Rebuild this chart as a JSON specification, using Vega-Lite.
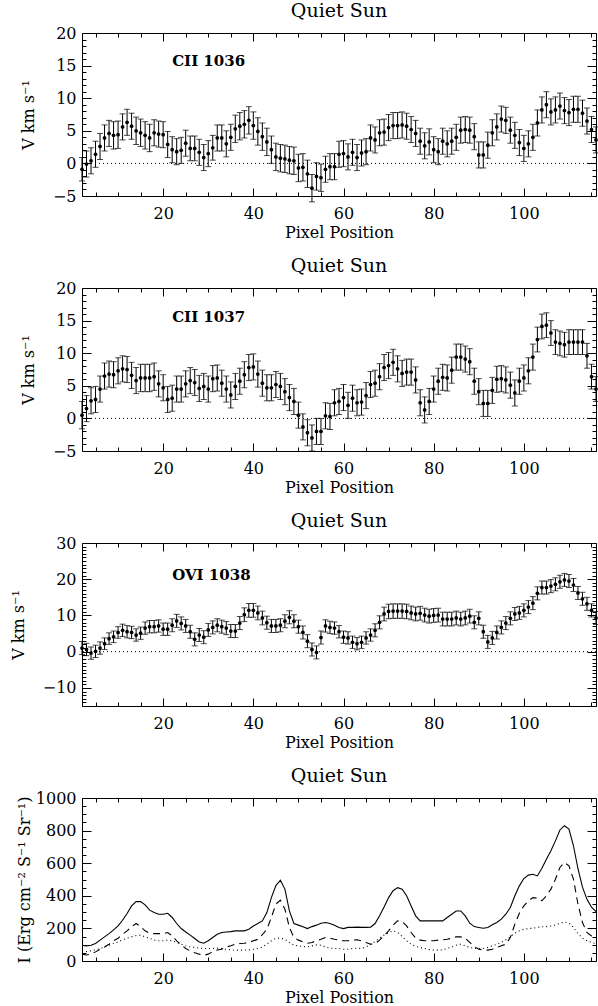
{
"$schema": "https://vega.github.io/schema/vega-lite/v6.json",
"padding": {"left": 9, "top": 1, "right": 2, "bottom": 0},
"bounds": "flush",
"spacing": 92,
"datasets": {
"vel": [
{"x":2,"a":-0.9,"ea":1.8,"b":0.5,"eb":2.1,"c":1.0,"ec":1.8},
{"x":3,"a":-0.1,"ea":2.0,"b":1.5,"eb":2.0,"c":0.6,"ec":1.7},
{"x":4,"a":0.4,"ea":2.0,"b":2.7,"eb":2.0,"c":-0.4,"ec":1.7},
{"x":5,"a":1.4,"ea":2.0,"b":2.9,"eb":2.0,"c":0.1,"ec":1.7},
{"x":6,"a":2.6,"ea":2.0,"b":4.5,"eb":2.0,"c":1.0,"ec":1.7},
{"x":7,"a":3.9,"ea":2.0,"b":6.5,"eb":2.0,"c":2.2,"ec":1.6},
{"x":8,"a":4.6,"ea":2.0,"b":6.8,"eb":2.0,"c":3.6,"ec":1.6},
{"x":9,"a":4.3,"ea":2.1,"b":6.7,"eb":2.0,"c":4.1,"ec":1.6},
{"x":10,"a":4.4,"ea":2.1,"b":7.3,"eb":2.0,"c":5.3,"ec":1.6},
{"x":11,"a":5.6,"ea":2.0,"b":7.6,"eb":2.0,"c":5.9,"ec":1.7},
{"x":12,"a":6.3,"ea":2.0,"b":7.5,"eb":2.0,"c":5.5,"ec":1.7},
{"x":13,"a":5.7,"ea":2.0,"b":6.6,"eb":2.0,"c":5.3,"ec":1.7},
{"x":14,"a":5.0,"ea":2.1,"b":5.8,"eb":2.0,"c":4.6,"ec":1.7},
{"x":15,"a":4.7,"ea":2.1,"b":6.2,"eb":2.1,"c":5.1,"ec":1.7},
{"x":16,"a":4.3,"ea":2.1,"b":6.2,"eb":2.1,"c":6.5,"ec":1.7},
{"x":17,"a":3.9,"ea":2.1,"b":6.2,"eb":2.1,"c":6.9,"ec":1.7},
{"x":18,"a":4.7,"ea":2.0,"b":6.4,"eb":2.1,"c":6.9,"ec":1.7},
{"x":19,"a":4.5,"ea":2.0,"b":5.3,"eb":2.0,"c":7.1,"ec":1.7},
{"x":20,"a":4.4,"ea":2.0,"b":4.7,"eb":2.0,"c":6.2,"ec":1.7},
{"x":21,"a":2.9,"ea":2.0,"b":2.9,"eb":2.0,"c":6.2,"ec":1.7},
{"x":22,"a":2.1,"ea":2.0,"b":3.1,"eb":2.0,"c":7.3,"ec":1.8},
{"x":23,"a":1.8,"ea":2.0,"b":4.5,"eb":2.0,"c":8.5,"ec":1.8},
{"x":24,"a":2.0,"ea":2.0,"b":4.5,"eb":2.0,"c":7.8,"ec":1.8},
{"x":25,"a":3.1,"ea":2.0,"b":5.3,"eb":2.0,"c":7.1,"ec":1.8},
{"x":26,"a":2.3,"ea":1.9,"b":5.8,"eb":2.0,"c":5.5,"ec":1.8},
{"x":27,"a":2.3,"ea":1.9,"b":5.5,"eb":2.0,"c":3.4,"ec":1.8},
{"x":28,"a":1.7,"ea":2.0,"b":4.6,"eb":2.0,"c":4.6,"ec":1.8},
{"x":29,"a":0.9,"ea":2.0,"b":4.9,"eb":2.0,"c":4.0,"ec":1.8},
{"x":30,"a":1.5,"ea":2.0,"b":4.5,"eb":2.0,"c":6.0,"ec":1.8},
{"x":31,"a":2.4,"ea":1.9,"b":6.1,"eb":2.0,"c":6.7,"ec":1.8},
{"x":32,"a":3.9,"ea":2.0,"b":6.2,"eb":2.0,"c":7.3,"ec":1.8},
{"x":33,"a":3.9,"ea":2.0,"b":5.4,"eb":2.0,"c":6.9,"ec":1.8},
{"x":34,"a":3.0,"ea":2.0,"b":4.5,"eb":2.0,"c":6.5,"ec":1.8},
{"x":35,"a":4.0,"ea":2.0,"b":3.6,"eb":2.0,"c":5.7,"ec":1.8},
{"x":36,"a":5.3,"ea":2.1,"b":4.9,"eb":2.0,"c":5.7,"ec":1.8},
{"x":37,"a":5.7,"ea":2.1,"b":5.7,"eb":2.0,"c":7.9,"ec":1.8},
{"x":38,"a":6.0,"ea":2.1,"b":6.7,"eb":2.0,"c":10.2,"ec":1.9},
{"x":39,"a":6.6,"ea":2.1,"b":7.8,"eb":2.0,"c":11.4,"ec":1.9},
{"x":40,"a":5.8,"ea":2.1,"b":7.9,"eb":2.0,"c":11.4,"ec":1.9},
{"x":41,"a":4.9,"ea":2.1,"b":6.8,"eb":2.0,"c":10.7,"ec":1.9},
{"x":42,"a":4.1,"ea":2.1,"b":5.4,"eb":2.0,"c":9.3,"ec":1.9},
{"x":43,"a":3.3,"ea":2.1,"b":4.7,"eb":2.0,"c":8.0,"ec":1.8},
{"x":44,"a":2.1,"ea":2.1,"b":4.7,"eb":2.0,"c":7.1,"ec":1.8},
{"x":45,"a":1.0,"ea":2.1,"b":5.2,"eb":2.0,"c":7.1,"ec":1.8},
{"x":46,"a":0.8,"ea":2.1,"b":4.9,"eb":2.0,"c":7.3,"ec":1.8},
{"x":47,"a":0.7,"ea":2.1,"b":4.1,"eb":2.0,"c":8.4,"ec":1.8},
{"x":48,"a":0.5,"ea":2.1,"b":3.2,"eb":2.0,"c":9.5,"ec":1.8},
{"x":49,"a":0.4,"ea":2.1,"b":2.6,"eb":2.0,"c":8.4,"ec":1.8},
{"x":50,"a":-0.7,"ea":2.1,"b":0.5,"eb":2.0,"c":6.9,"ec":1.8},
{"x":51,"a":-0.6,"ea":2.1,"b":-1.3,"eb":2.0,"c":5.3,"ec":1.8},
{"x":52,"a":-1.6,"ea":2.1,"b":-2.2,"eb":2.0,"c":2.9,"ec":1.8},
{"x":53,"a":-3.8,"ea":2.1,"b":-3.0,"eb":2.0,"c":0.6,"ec":1.8},
{"x":54,"a":-2.0,"ea":2.1,"b":-2.0,"eb":2.0,"c":-0.2,"ec":1.8},
{"x":55,"a":-2.2,"ea":2.1,"b":-2.0,"eb":2.0,"c":3.9,"ec":1.8},
{"x":56,"a":-0.9,"ea":2.0,"b":0.4,"eb":2.0,"c":7.1,"ec":1.7},
{"x":57,"a":-0.5,"ea":2.0,"b":0.3,"eb":2.0,"c":6.7,"ec":1.7},
{"x":58,"a":-0.5,"ea":2.0,"b":2.4,"eb":2.0,"c":6.5,"ec":1.7},
{"x":59,"a":1.4,"ea":2.0,"b":2.6,"eb":2.0,"c":5.5,"ec":1.7},
{"x":60,"a":1.5,"ea":2.0,"b":3.2,"eb":2.0,"c":4.0,"ec":1.7},
{"x":61,"a":1.0,"ea":2.0,"b":2.0,"eb":2.0,"c":3.8,"ec":1.7},
{"x":62,"a":1.7,"ea":2.0,"b":3.1,"eb":2.0,"c":2.6,"ec":1.7},
{"x":63,"a":0.9,"ea":2.0,"b":2.4,"eb":2.0,"c":2.2,"ec":1.7},
{"x":64,"a":1.6,"ea":2.0,"b":2.5,"eb":2.0,"c":2.6,"ec":1.7},
{"x":65,"a":1.8,"ea":2.0,"b":3.5,"eb":2.0,"c":3.8,"ec":1.7},
{"x":66,"a":3.9,"ea":2.0,"b":5.2,"eb":2.0,"c":4.6,"ec":1.7},
{"x":67,"a":3.6,"ea":2.0,"b":5.4,"eb":2.0,"c":5.9,"ec":1.8},
{"x":68,"a":4.7,"ea":2.0,"b":6.4,"eb":2.0,"c":8.1,"ec":1.8},
{"x":69,"a":4.8,"ea":2.0,"b":7.8,"eb":2.0,"c":10.4,"ec":1.9},
{"x":70,"a":5.5,"ea":2.0,"b":8.1,"eb":2.0,"c":11.1,"ec":2.0},
{"x":71,"a":5.8,"ea":2.0,"b":8.6,"eb":2.0,"c":11.2,"ec":2.0},
{"x":72,"a":5.8,"ea":2.0,"b":7.6,"eb":2.0,"c":11.2,"ec":2.0},
{"x":73,"a":5.9,"ea":2.0,"b":6.9,"eb":2.0,"c":11.2,"ec":2.0},
{"x":74,"a":5.7,"ea":2.0,"b":7.1,"eb":2.0,"c":11.1,"ec":2.0},
{"x":75,"a":5.2,"ea":2.0,"b":7.1,"eb":2.0,"c":10.7,"ec":1.9},
{"x":76,"a":4.6,"ea":2.0,"b":5.9,"eb":2.0,"c":10.4,"ec":1.9},
{"x":77,"a":3.4,"ea":2.0,"b":2.4,"eb":2.0,"c":10.6,"ec":1.9},
{"x":78,"a":2.7,"ea":2.0,"b":1.3,"eb":2.0,"c":10.1,"ec":1.9},
{"x":79,"a":3.3,"ea":2.0,"b":2.6,"eb":2.0,"c":9.8,"ec":1.9},
{"x":80,"a":2.1,"ea":2.0,"b":4.5,"eb":2.0,"c":10.0,"ec":1.9},
{"x":81,"a":1.8,"ea":2.0,"b":5.7,"eb":2.0,"c":10.1,"ec":1.9},
{"x":82,"a":3.4,"ea":2.0,"b":6.3,"eb":2.0,"c":9.0,"ec":1.9},
{"x":83,"a":3.0,"ea":2.0,"b":6.2,"eb":2.0,"c":9.0,"ec":1.9},
{"x":84,"a":3.4,"ea":2.0,"b":7.4,"eb":2.0,"c":9.0,"ec":1.9},
{"x":85,"a":4.0,"ea":2.0,"b":9.4,"eb":2.0,"c":9.3,"ec":1.9},
{"x":86,"a":5.1,"ea":2.0,"b":9.4,"eb":2.0,"c":9.0,"ec":1.9},
{"x":87,"a":5.2,"ea":2.0,"b":9.1,"eb":2.0,"c":9.3,"ec":1.9},
{"x":88,"a":5.1,"ea":2.0,"b":8.7,"eb":2.0,"c":9.8,"ec":1.9},
{"x":89,"a":4.1,"ea":2.0,"b":5.7,"eb":2.0,"c":8.1,"ec":1.8},
{"x":90,"a":1.3,"ea":2.0,"b":4.1,"eb":2.0,"c":9.2,"ec":1.8},
{"x":91,"a":1.3,"ea":2.0,"b":2.3,"eb":2.0,"c":5.5,"ec":1.8},
{"x":92,"a":2.8,"ea":2.0,"b":2.3,"eb":2.0,"c":2.7,"ec":1.8},
{"x":93,"a":4.7,"ea":2.0,"b":4.3,"eb":2.0,"c":3.8,"ec":1.8},
{"x":94,"a":5.6,"ea":2.0,"b":6.0,"eb":2.0,"c":5.3,"ec":1.8},
{"x":95,"a":6.8,"ea":2.0,"b":6.1,"eb":2.0,"c":6.7,"ec":1.8},
{"x":96,"a":6.6,"ea":2.0,"b":5.9,"eb":2.0,"c":7.9,"ec":1.8},
{"x":97,"a":5.1,"ea":2.0,"b":5.1,"eb":2.0,"c":9.2,"ec":1.8},
{"x":98,"a":4.3,"ea":2.0,"b":3.9,"eb":2.0,"c":10.4,"ec":1.8},
{"x":99,"a":3.2,"ea":2.0,"b":5.7,"eb":2.0,"c":10.7,"ec":1.8},
{"x":100,"a":2.3,"ea":2.0,"b":6.2,"eb":2.0,"c":11.4,"ec":1.8},
{"x":101,"a":3.0,"ea":2.0,"b":7.3,"eb":2.0,"c":12.3,"ec":1.8},
{"x":102,"a":4.0,"ea":2.0,"b":9.4,"eb":2.0,"c":13.4,"ec":1.8},
{"x":103,"a":6.2,"ea":2.0,"b":12.1,"eb":1.9,"c":16.1,"ec":1.8},
{"x":104,"a":8.2,"ea":2.0,"b":14.1,"eb":1.9,"c":17.7,"ec":1.8},
{"x":105,"a":9.0,"ea":2.0,"b":14.3,"eb":1.9,"c":17.7,"ec":1.8},
{"x":106,"a":7.9,"ea":2.0,"b":13.1,"eb":1.9,"c":18.1,"ec":1.8},
{"x":107,"a":8.2,"ea":2.0,"b":11.7,"eb":1.9,"c":18.6,"ec":1.8},
{"x":108,"a":8.8,"ea":2.0,"b":11.5,"eb":1.9,"c":19.3,"ec":1.8},
{"x":109,"a":8.1,"ea":2.0,"b":11.3,"eb":1.9,"c":19.8,"ec":1.8},
{"x":110,"a":7.8,"ea":2.0,"b":11.7,"eb":1.9,"c":19.5,"ec":1.8},
{"x":111,"a":8.3,"ea":2.0,"b":11.7,"eb":1.9,"c":18.4,"ec":1.8},
{"x":112,"a":8.3,"ea":2.0,"b":11.7,"eb":1.9,"c":16.2,"ec":1.8},
{"x":113,"a":7.7,"ea":2.0,"b":11.7,"eb":1.9,"c":14.6,"ec":1.8},
{"x":114,"a":6.5,"ea":2.0,"b":9.6,"eb":1.9,"c":13.2,"ec":1.8},
{"x":115,"a":5.2,"ea":2.0,"b":6.4,"eb":1.9,"c":11.4,"ec":1.8},
{"x":116,"a":3.6,"ea":2.0,"b":4.5,"eb":1.9,"c":9.3,"ec":1.8}
],
"int": [
{"x":2,"s":97,"d":42,"p":56},{"x":3,"s":93,"d":37,"p":58},{"x":4,"s":97,"d":42,"p":62},{"x":5,"s":107,"d":56,"p":68},
{"x":6,"s":128,"d":72,"p":77},{"x":7,"s":148,"d":86,"p":86},{"x":8,"s":168,"d":103,"p":97},{"x":9,"s":191,"d":124,"p":107},
{"x":10,"s":215,"d":140,"p":117},{"x":11,"s":250,"d":164,"p":130},{"x":12,"s":291,"d":185,"p":140},{"x":13,"s":338,"d":210,"p":148},
{"x":14,"s":364,"d":230,"p":156},{"x":15,"s":364,"d":210,"p":159},{"x":16,"s":344,"d":185,"p":148},{"x":17,"s":312,"d":171,"p":140},
{"x":18,"s":297,"d":168,"p":128},{"x":19,"s":287,"d":168,"p":124},{"x":20,"s":287,"d":168,"p":124},{"x":21,"s":293,"d":175,"p":128},
{"x":22,"s":267,"d":154,"p":124},{"x":23,"s":230,"d":124,"p":114},{"x":24,"s":199,"d":99,"p":103},{"x":25,"s":178,"d":77,"p":93},
{"x":26,"s":159,"d":62,"p":86},{"x":27,"s":138,"d":51,"p":83},{"x":28,"s":117,"d":42,"p":79},{"x":29,"s":109,"d":35,"p":77},
{"x":30,"s":124,"d":42,"p":77},{"x":31,"s":144,"d":58,"p":77},{"x":32,"s":164,"d":67,"p":79},{"x":33,"s":175,"d":72,"p":77},
{"x":34,"s":178,"d":86,"p":72},{"x":35,"s":180,"d":93,"p":68},{"x":36,"s":185,"d":103,"p":67},{"x":37,"s":185,"d":107,"p":67},
{"x":38,"s":185,"d":109,"p":67},{"x":39,"s":195,"d":114,"p":68},{"x":40,"s":215,"d":124,"p":72},{"x":41,"s":230,"d":133,"p":77},
{"x":42,"s":246,"d":161,"p":86},{"x":43,"s":297,"d":195,"p":103},{"x":44,"s":389,"d":267,"p":124},{"x":45,"s":463,"d":349,"p":138},
{"x":46,"s":496,"d":373,"p":140},{"x":47,"s":441,"d":318,"p":133},{"x":48,"s":307,"d":206,"p":114},{"x":49,"s":230,"d":144,"p":97},
{"x":50,"s":220,"d":128,"p":93},{"x":51,"s":210,"d":117,"p":89},{"x":52,"s":199,"d":109,"p":86},{"x":53,"s":211,"d":114,"p":93},
{"x":54,"s":220,"d":124,"p":99},{"x":55,"s":232,"d":133,"p":97},{"x":56,"s":236,"d":144,"p":86},{"x":57,"s":230,"d":140,"p":79},
{"x":58,"s":220,"d":133,"p":77},{"x":59,"s":206,"d":128,"p":77},{"x":60,"s":199,"d":124,"p":72},{"x":61,"s":206,"d":124,"p":72},
{"x":62,"s":206,"d":128,"p":77},{"x":63,"s":208,"d":130,"p":79},{"x":64,"s":206,"d":124,"p":77},{"x":65,"s":206,"d":114,"p":86},
{"x":66,"s":208,"d":103,"p":103},{"x":67,"s":230,"d":107,"p":119},{"x":68,"s":277,"d":128,"p":140},{"x":69,"s":332,"d":154,"p":159},
{"x":70,"s":389,"d":185,"p":175},{"x":71,"s":431,"d":220,"p":185},{"x":72,"s":450,"d":246,"p":175},{"x":73,"s":441,"d":242,"p":150},
{"x":74,"s":400,"d":215,"p":124},{"x":75,"s":338,"d":175,"p":103},{"x":76,"s":277,"d":140,"p":89},{"x":77,"s":246,"d":128,"p":83},
{"x":78,"s":246,"d":124,"p":77},{"x":79,"s":246,"d":124,"p":70},{"x":80,"s":246,"d":124,"p":67},{"x":81,"s":246,"d":128,"p":67},
{"x":82,"s":246,"d":130,"p":68},{"x":83,"s":267,"d":133,"p":77},{"x":84,"s":287,"d":140,"p":86},{"x":85,"s":307,"d":148,"p":97},
{"x":86,"s":307,"d":148,"p":103},{"x":87,"s":277,"d":140,"p":93},{"x":88,"s":232,"d":114,"p":83},{"x":89,"s":211,"d":89,"p":77},
{"x":90,"s":206,"d":72,"p":77},{"x":91,"s":201,"d":67,"p":77},{"x":92,"s":206,"d":67,"p":83},{"x":93,"s":222,"d":72,"p":93},
{"x":94,"s":236,"d":83,"p":103},{"x":95,"s":257,"d":93,"p":114},{"x":96,"s":287,"d":103,"p":130},{"x":97,"s":328,"d":144,"p":150},
{"x":98,"s":400,"d":226,"p":171},{"x":99,"s":461,"d":293,"p":185},{"x":100,"s":506,"d":338,"p":195},{"x":101,"s":527,"d":369,"p":199},
{"x":102,"s":532,"d":389,"p":201},{"x":103,"s":522,"d":386,"p":206},{"x":104,"s":569,"d":369,"p":210},{"x":105,"s":624,"d":400,"p":211},
{"x":106,"s":676,"d":441,"p":215},{"x":107,"s":737,"d":502,"p":222},{"x":108,"s":804,"d":574,"p":230},{"x":109,"s":830,"d":604,"p":240},
{"x":110,"s":809,"d":584,"p":232},{"x":111,"s":707,"d":502,"p":206},{"x":112,"s":566,"d":349,"p":168},{"x":113,"s":453,"d":236,"p":140},
{"x":114,"s":378,"d":175,"p":124},{"x":115,"s":331,"d":154,"p":114},{"x":116,"s":303,"d":144,"p":107}
]
},
"vconcat": [
{
"title": "Quiet Sun", "width": 514, "height": 163, "data": {"name": "vel"},
"resolve": {"axis": {"x": "independent", "y": "independent"}},
"layer": [
{"mark": {"type": "errorbar", "ticks": {"size": 6}, "thickness": 1, "color": "black"},
 "encoding": {
  "x": {"field": "x", "type": "quantitative", "scale": {"domain": [2, 116], "nice": false, "zero": false},
   "axis": {"title": "Pixel Position", "values": [5,10,15,20,25,30,35,40,45,50,55,60,65,70,75,80,85,90,95,100,105,110,115], "labelExpr": "datum.value % 20 === 0 ? datum.label : ''", "tickSize": {"condition": {"test": "datum.value % 20 === 0", "value": -8}, "value": -4}, "labelPadding": 17, "titlePadding": -1}},
  "y": {"field": "a", "type": "quantitative", "scale": {"domain": [-5, 20], "nice": false, "zero": false},
   "axis": {"title": "V km s⁻¹", "values": [-5,-4,-3,-2,-1,0,1,2,3,4,5,6,7,8,9,10,11,12,13,14,15,16,17,18,19,20], "labelExpr": "datum.value % 5 === 0 ? datum.label : ''", "tickSize": {"condition": {"test": "datum.value % 5 === 0", "value": -9}, "value": -4}, "labelPadding": 15, "titlePadding": 16}},
  "yError": {"field": "ea"}
 }},
{"mark": {"type": "circle", "size": 14, "color": "black", "opacity": 1},
 "encoding": {
  "x": {"field": "x", "type": "quantitative", "axis": {"orient": "top", "title": null, "labels": false, "minExtent": 0, "maxExtent": 0, "values": [5,10,15,20,25,30,35,40,45,50,55,60,65,70,75,80,85,90,95,100,105,110,115], "tickSize": {"condition": {"test": "datum.value % 20 === 0", "value": -8}, "value": -4}}},
  "y": {"field": "a", "type": "quantitative", "axis": {"orient": "right", "title": null, "labels": false, "minExtent": 0, "maxExtent": 0, "values": [-5,-4,-3,-2,-1,0,1,2,3,4,5,6,7,8,9,10,11,12,13,14,15,16,17,18,19,20], "tickSize": {"condition": {"test": "datum.value % 5 === 0", "value": -9}, "value": -4}}}
 }},
{"data": {"values": [{}]}, "mark": {"type": "rule", "strokeDash": [1, 3], "color": "black"},
 "encoding": {"y": {"datum": 0, "type": "quantitative", "axis": null}}},
{"data": {"values": [{"t": "CII 1036"}]}, "mark": {"type": "text", "fontWeight": "bold", "fontSize": 15, "align": "left", "baseline": "middle", "color": "black"},
 "encoding": {"x": {"datum": 22, "type": "quantitative", "axis": null}, "y": {"datum": 15.7, "type": "quantitative", "axis": null}, "text": {"field": "t"}}}
]
},
{
"title": "Quiet Sun", "width": 514, "height": 163, "data": {"name": "vel"},
"resolve": {"axis": {"x": "independent", "y": "independent"}},
"layer": [
{"mark": {"type": "errorbar", "ticks": {"size": 6}, "thickness": 1, "color": "black"},
 "encoding": {
  "x": {"field": "x", "type": "quantitative", "scale": {"domain": [2, 116], "nice": false, "zero": false},
   "axis": {"title": "Pixel Position", "values": [5,10,15,20,25,30,35,40,45,50,55,60,65,70,75,80,85,90,95,100,105,110,115], "labelExpr": "datum.value % 20 === 0 ? datum.label : ''", "tickSize": {"condition": {"test": "datum.value % 20 === 0", "value": -8}, "value": -4}, "labelPadding": 17, "titlePadding": -1}},
  "y": {"field": "b", "type": "quantitative", "scale": {"domain": [-5, 20], "nice": false, "zero": false},
   "axis": {"title": "V km s⁻¹", "values": [-5,-4,-3,-2,-1,0,1,2,3,4,5,6,7,8,9,10,11,12,13,14,15,16,17,18,19,20], "labelExpr": "datum.value % 5 === 0 ? datum.label : ''", "tickSize": {"condition": {"test": "datum.value % 5 === 0", "value": -9}, "value": -4}, "labelPadding": 15, "titlePadding": 16}},
  "yError": {"field": "eb"}
 }},
{"mark": {"type": "circle", "size": 14, "color": "black", "opacity": 1},
 "encoding": {
  "x": {"field": "x", "type": "quantitative", "axis": {"orient": "top", "title": null, "labels": false, "minExtent": 0, "maxExtent": 0, "values": [5,10,15,20,25,30,35,40,45,50,55,60,65,70,75,80,85,90,95,100,105,110,115], "tickSize": {"condition": {"test": "datum.value % 20 === 0", "value": -8}, "value": -4}}},
  "y": {"field": "b", "type": "quantitative", "axis": {"orient": "right", "title": null, "labels": false, "minExtent": 0, "maxExtent": 0, "values": [-5,-4,-3,-2,-1,0,1,2,3,4,5,6,7,8,9,10,11,12,13,14,15,16,17,18,19,20], "tickSize": {"condition": {"test": "datum.value % 5 === 0", "value": -9}, "value": -4}}}
 }},
{"data": {"values": [{}]}, "mark": {"type": "rule", "strokeDash": [1, 3], "color": "black"},
 "encoding": {"y": {"datum": 0, "type": "quantitative", "axis": null}}},
{"data": {"values": [{"t": "CII 1037"}]}, "mark": {"type": "text", "fontWeight": "bold", "fontSize": 15, "align": "left", "baseline": "middle", "color": "black"},
 "encoding": {"x": {"datum": 22, "type": "quantitative", "axis": null}, "y": {"datum": 15.6, "type": "quantitative", "axis": null}, "text": {"field": "t"}}}
]
},
{
"title": "Quiet Sun", "width": 514, "height": 163, "data": {"name": "vel"},
"resolve": {"axis": {"x": "independent", "y": "independent"}},
"layer": [
{"mark": {"type": "errorbar", "ticks": {"size": 6}, "thickness": 1, "color": "black"},
 "encoding": {
  "x": {"field": "x", "type": "quantitative", "scale": {"domain": [2, 116], "nice": false, "zero": false},
   "axis": {"title": "Pixel Position", "values": [5,10,15,20,25,30,35,40,45,50,55,60,65,70,75,80,85,90,95,100,105,110,115], "labelExpr": "datum.value % 20 === 0 ? datum.label : ''", "tickSize": {"condition": {"test": "datum.value % 20 === 0", "value": -8}, "value": -4}, "labelPadding": 17, "titlePadding": -1}},
  "y": {"field": "c", "type": "quantitative", "scale": {"domain": [-15, 30], "nice": false, "zero": false},
   "axis": {"title": "V km s⁻¹", "values": [-15,-14,-13,-12,-11,-10,-9,-8,-7,-6,-5,-4,-3,-2,-1,0,1,2,3,4,5,6,7,8,9,10,11,12,13,14,15,16,17,18,19,20,21,22,23,24,25,26,27,28,29,30], "labelExpr": "datum.value % 10 === 0 ? datum.label : ''", "tickSize": {"condition": {"test": "datum.value % 10 === 0", "value": -9}, "value": -4}, "labelPadding": 15, "titlePadding": 16}},
  "yError": {"field": "ec"}
 }},
{"mark": {"type": "circle", "size": 14, "color": "black", "opacity": 1},
 "encoding": {
  "x": {"field": "x", "type": "quantitative", "axis": {"orient": "top", "title": null, "labels": false, "minExtent": 0, "maxExtent": 0, "values": [5,10,15,20,25,30,35,40,45,50,55,60,65,70,75,80,85,90,95,100,105,110,115], "tickSize": {"condition": {"test": "datum.value % 20 === 0", "value": -8}, "value": -4}}},
  "y": {"field": "c", "type": "quantitative", "axis": {"orient": "right", "title": null, "labels": false, "minExtent": 0, "maxExtent": 0, "values": [-15,-14,-13,-12,-11,-10,-9,-8,-7,-6,-5,-4,-3,-2,-1,0,1,2,3,4,5,6,7,8,9,10,11,12,13,14,15,16,17,18,19,20,21,22,23,24,25,26,27,28,29,30], "tickSize": {"condition": {"test": "datum.value % 10 === 0", "value": -9}, "value": -4}}}
 }},
{"data": {"values": [{}]}, "mark": {"type": "rule", "strokeDash": [1, 3], "color": "black"},
 "encoding": {"y": {"datum": 0, "type": "quantitative", "axis": null}}},
{"data": {"values": [{"t": "OVI 1038"}]}, "mark": {"type": "text", "fontWeight": "bold", "fontSize": 15, "align": "left", "baseline": "middle", "color": "black"},
 "encoding": {"x": {"datum": 22, "type": "quantitative", "axis": null}, "y": {"datum": 21.3, "type": "quantitative", "axis": null}, "text": {"field": "t"}}}
]
},
{
"title": "Quiet Sun", "width": 514, "height": 163, "data": {"name": "int"},
"resolve": {"axis": {"x": "independent", "y": "independent"}},
"layer": [
{"mark": {"type": "line", "color": "black", "strokeWidth": 1.1},
 "encoding": {
  "x": {"field": "x", "type": "quantitative", "scale": {"domain": [2, 116], "nice": false, "zero": false},
   "axis": {"title": "Pixel Position", "values": [5,10,15,20,25,30,35,40,45,50,55,60,65,70,75,80,85,90,95,100,105,110,115], "labelExpr": "datum.value % 20 === 0 ? datum.label : ''", "tickSize": {"condition": {"test": "datum.value % 20 === 0", "value": -8}, "value": -4}, "labelPadding": 17, "titlePadding": -1}},
  "y": {"field": "s", "type": "quantitative", "scale": {"domain": [0, 1000], "nice": false, "zero": false},
   "axis": {"title": "I (Erg cm⁻² S⁻¹ Sr⁻¹)", "format": "d", "values": [0,50,100,150,200,250,300,350,400,450,500,550,600,650,700,750,800,850,900,950,1000], "labelExpr": "datum.value % 200 === 0 ? datum.label : ''", "tickSize": {"condition": {"test": "datum.value % 200 === 0", "value": -9}, "value": -4}, "labelPadding": 15, "titlePadding": 3}}
 }},
{"mark": {"type": "line", "color": "black", "strokeWidth": 1.1, "strokeDash": [7, 5]},
 "encoding": {
  "x": {"field": "x", "type": "quantitative", "axis": {"orient": "top", "title": null, "labels": false, "minExtent": 0, "maxExtent": 0, "values": [5,10,15,20,25,30,35,40,45,50,55,60,65,70,75,80,85,90,95,100,105,110,115], "tickSize": {"condition": {"test": "datum.value % 20 === 0", "value": -8}, "value": -4}}},
  "y": {"field": "d", "type": "quantitative", "axis": {"orient": "right", "title": null, "labels": false, "minExtent": 0, "maxExtent": 0, "values": [0,50,100,150,200,250,300,350,400,450,500,550,600,650,700,750,800,850,900,950,1000], "tickSize": {"condition": {"test": "datum.value % 200 === 0", "value": -9}, "value": -4}}}
 }},
{"mark": {"type": "line", "color": "black", "strokeWidth": 1.1, "strokeDash": [1, 3]},
 "encoding": {
  "x": {"field": "x", "type": "quantitative", "axis": null},
  "y": {"field": "p", "type": "quantitative", "axis": null}
 }}
]
}
],
"config": {
 "font": "DejaVu Serif",
 "view": {"stroke": "black", "strokeWidth": 1},
 "axis": {"grid": false, "domain": false, "tickColor": "black", "tickWidth": 1, "labelColor": "black", "titleColor": "black", "labelFont": "DejaVu Serif", "titleFont": "DejaVu Serif", "labelFontSize": 16, "titleFontSize": 16, "titleFontWeight": "normal", "labelFlush": false, "labelOverlap": false, "labelBound": false},
 "title": {"font": "DejaVu Serif", "fontSize": 19, "fontWeight": "normal", "color": "black", "offset": 0},
 "text": {"font": "DejaVu Serif"}
}
}
